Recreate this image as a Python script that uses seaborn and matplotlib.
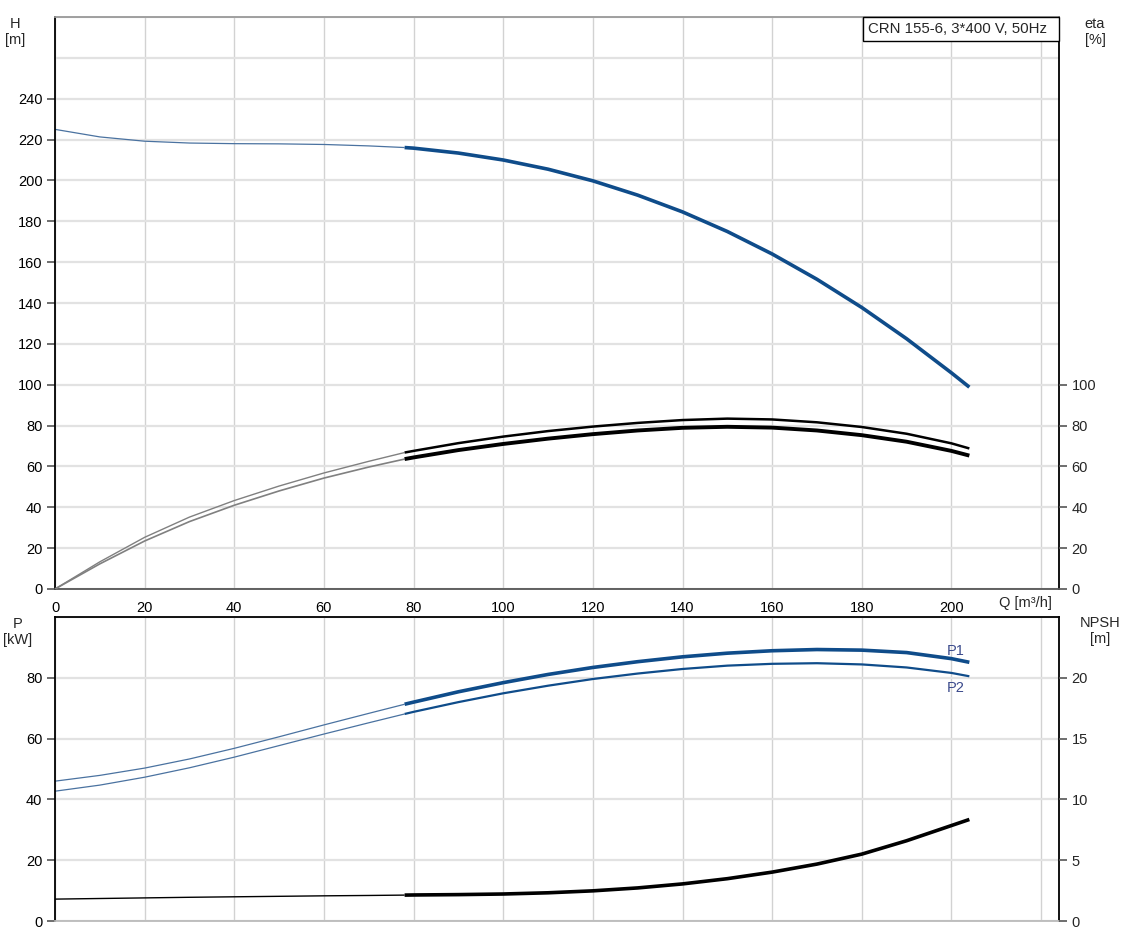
import numpy as np
import pandas as pd
import matplotlib
matplotlib.use('Agg')
import matplotlib.pyplot as plt
from matplotlib.patches import Rectangle
import seaborn as sns

sns.set_theme(style='white')
plt.rcParams['font.family'] = ['Liberation Sans', 'DejaVu Sans']

# flow points (m3/h)
q = [0, 10, 20, 30, 40, 50, 60, 70, 78, 80, 90, 100, 110, 120, 130, 140, 150, 160, 170, 180, 190, 200, 204]
# head H [m]
head = [225, 221.3, 219.2, 218.3, 218, 217.9, 217.6, 216.9, 216.1, 215.8, 213.4, 210, 205.5, 199.8,
        192.8, 184.6, 175, 164, 151.6, 137.8, 122.5, 105.8, 98.8]
# efficiency eta [%], two curves
eta_upper = [0, 13.3, 25.3, 35.2, 43.3, 50.4, 56.8, 62.5, 66.8, 67.6, 71.4, 74.6, 77.3, 79.5,
             81.3, 82.7, 83.4, 83.0, 81.6, 79.3, 76.0, 71.3, 68.8]
eta_lower = [0, 12.3, 23.5, 33.0, 41.0, 48.0, 54.3, 59.7, 63.6, 64.4, 68.0, 71.0, 73.6, 75.8,
             77.6, 78.9, 79.4, 79.0, 77.6, 75.3, 72.1, 67.6, 65.3]
# power P1 / P2 [kW]
p1 = [46, 47.9, 50.3, 53.3, 56.8, 60.6, 64.5, 68.3, 71.3, 72.0, 75.4, 78.4, 81.1, 83.4, 85.3,
      86.9, 88.1, 88.9, 89.3, 89.1, 88.3, 86.3, 85.1]
p2 = [42.7, 44.7, 47.3, 50.4, 53.9, 57.7, 61.5, 65.2, 68.1, 68.8, 72.0, 74.9, 77.4, 79.6, 81.4,
      82.9, 84.0, 84.6, 84.8, 84.4, 83.4, 81.6, 80.5]
# NPSH [m]
npsh = [1.8, 1.85, 1.9, 1.95, 1.99, 2.03, 2.07, 2.1, 2.13, 2.14, 2.17, 2.22, 2.32, 2.48, 2.72,
        3.05, 3.48, 4.02, 4.68, 5.5, 6.6, 7.85, 8.35]

title_box = 'CRN 155-6, 3*400 V, 50Hz'

df = pd.DataFrame({'q': q, 'head': head, 'eta_u': eta_upper, 'eta_l': eta_lower,
                   'p1': p1, 'p2': p2, 'npsh': npsh})
thin = df[df['q'] <= 78]
thick = df[df['q'] >= 78]

blue = '#0f4c8a'
tick_c = '#555555'

fig = plt.figure(figsize=(11.25, 9.38), dpi=100)
ax1 = fig.add_axes([55 / 1125, 1 - 589 / 938, 1004 / 1125, 572 / 938])
ax2 = fig.add_axes([55 / 1125, 1 - 921 / 938, 1004 / 1125, 304 / 938])


def style_axes(ax, top_color, bottom_color):
    ax.set_xlim(0, 224)
    ax.set_xticks(np.arange(0, 221, 20))
    ax.grid(True, axis='x', color='#d2d2d2', linewidth=1.0)
    ax.grid(True, axis='y', which='both', color='#e2e2e2', linewidth=1.6)
    ax.set_axisbelow(True)
    ax.spines['left'].set_color('black')
    ax.spines['right'].set_color('black')
    ax.spines['top'].set_color(top_color)
    ax.spines['bottom'].set_color(bottom_color)
    for s in ax.spines.values():
        s.set_linewidth(1.3)
    ax.tick_params(axis='both', which='major', direction='out', length=6, width=1.2,
                   color=tick_c, labelsize=10.5, labelcolor='black', pad=3)
    ax.tick_params(axis='y', which='minor', length=0)
    ax.set_xlabel('')
    ax.set_ylabel('')


def draw(ax, col, color, lw_thin, lw_thick, thin_color=None):
    sns.lineplot(data=thin, x='q', y=col, ax=ax, color=thin_color or color, linewidth=lw_thin)
    sns.lineplot(data=thick, x='q', y=col, ax=ax, color=color, linewidth=lw_thick)
    for ln in ax.lines:
        ln.set_solid_joinstyle('round')
        ln.set_solid_capstyle('butt')


# ---- top panel: head and efficiency ----
draw(ax1, 'head', blue, 0.9, 2.6, thin_color='#4a72a0')
ax1.set_ylim(0, 280)
ax1.set_yticks(np.arange(0, 241, 20))
ax1.set_yticks([260, 280], minor=True)
style_axes(ax1, '#999999', '#555555')
ax1.set_xticklabels([str(v) if v <= 200 else '' for v in range(0, 221, 20)])

ax1e = ax1.twinx()
draw(ax1e, 'eta_u', 'black', 1.0, 1.8, thin_color='#808080')
draw(ax1e, 'eta_l', 'black', 1.2, 2.8, thin_color='#808080')
ax1e.set_ylim(0, 280)
ax1e.set_yticks(np.arange(0, 101, 20))
ax1e.set_ylabel('')
ax1e.tick_params(axis='y', direction='out', length=6, width=1.2, color=tick_c, labelsize=10.5, pad=3)
for s in ax1e.spines.values():
    s.set_visible(False)

# title box in the top right corner
bw, bh = 196 / 1004, 24 / 572
ax1.add_patch(Rectangle((1 - bw, 1 - bh), bw, bh, transform=ax1.transAxes, facecolor='white',
                        edgecolor='black', linewidth=1.0, zorder=5, clip_on=False))
ax1.text(1 - bw + 5 / 1004, 1 - bh / 2, title_box, transform=ax1.transAxes, ha='left', va='center',
         fontsize=10.8, zorder=6)

# ---- bottom panel: power and NPSH ----
draw(ax2, 'p1', blue, 0.9, 2.6, thin_color='#4a72a0')
draw(ax2, 'p2', blue, 0.9, 1.6, thin_color='#4a72a0')
ax2.set_ylim(0, 100)
ax2.set_yticks(np.arange(0, 81, 20))
ax2.set_yticks([100], minor=True)
style_axes(ax2, 'black', '#bbbbbb')
ax2.set_xticklabels([])
ax2.tick_params(axis='x', length=0)

ax2n = ax2.twinx()
draw(ax2n, 'npsh', 'black', 1.0, 2.6)
ax2n.set_ylim(0, 25)
ax2n.set_yticks(np.arange(0, 21, 5))
ax2n.set_ylabel('')
ax2n.tick_params(axis='y', direction='out', length=6, width=1.2, color=tick_c, labelsize=10.5, pad=3)
for s in ax2n.spines.values():
    s.set_visible(False)

ax2.text(df['q'].iloc[-1] - 1, df['p1'].iloc[-1] + 1.5, 'P1', ha='right', va='bottom',
         fontsize=10.5, color='#3b4a8c')
ax2.text(df['q'].iloc[-1] - 1, df['p2'].iloc[-1] - 1.5, 'P2', ha='right', va='top',
         fontsize=10.5, color='#3b4a8c')

# axis titles placed like the original
lab = dict(ha='center', va='center', fontsize=10.5, linespacing=1.1)
fig.text(15 / 1125, 1 - 32 / 938, 'H\n[m]', **lab)
fig.text(1095 / 1125, 1 - 32 / 938, 'eta\n[%]', **lab)
fig.text(18 / 1125, 1 - 632 / 938, 'P\n[kW]', **lab)
fig.text(1100 / 1125, 1 - 631 / 938, 'NPSH\n[m]', **lab)
fig.text(1025 / 1125, 1 - 603 / 938, 'Q [m³/h]', ha='center', va='center', fontsize=10.5)

fig.savefig('out.png', dpi=100, facecolor='white')
